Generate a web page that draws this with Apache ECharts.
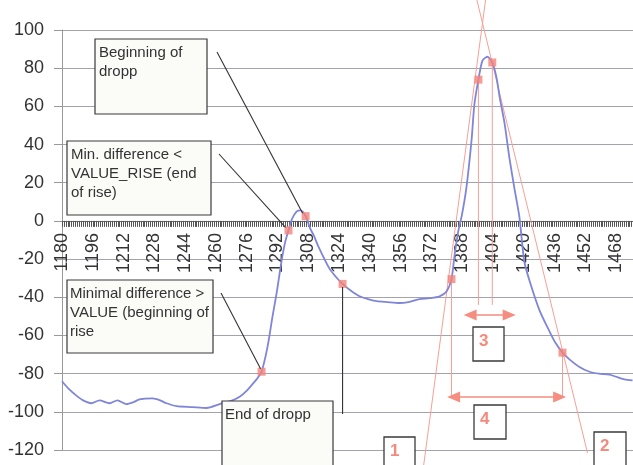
<!DOCTYPE html>
<html><head><meta charset="utf-8">
<script src="https://cdn.jsdelivr.net/npm/echarts@6/dist/echarts.min.js"></script>
<style>html,body{margin:0;padding:0;background:#fff}#c{width:633px;height:465px}</style>
</head><body><div id="c"></div>
<script>
// ---- data ----
const curveX = [1180,1183.5,1187.5,1191,1195.3,1199.5,1204.7,1208.8,1213.5,1217,1220.3,1227,1231,1234.3,1239.5,1247.8,1255.1,1261.9,1268.6,1272.5,1275.9,1279,1281.1,1283.7,1286.8,1289.4,1291.5,1294.1,1296,1297.7,1299.5,1302,1304,1306.6,1309,1311,1313.5,1319,1322.5,1325.8,1330,1334.6,1339,1343.5,1349,1355.4,1360,1365.8,1371,1376.2,1379.8,1382.4,1384,1386,1387.8,1390.1,1392.8,1394.3,1396.4,1398.5,1401.1,1403.6,1405.8,1407.4,1410,1412.5,1415.1,1417.7,1420.2,1423,1428.2,1433.4,1436.5,1440.1,1443.7,1448.9,1454.1,1459,1464.5,1469,1472.3,1476.5];
const curveY = [-84,-88,-91.5,-94,-95.5,-94,-95.5,-94,-96,-95,-93.5,-93,-94,-95.5,-97,-97.5,-98,-96,-94,-92,-89,-85.5,-83,-79,-66,-50,-38,-21,-11,-5,1,5,5.5,2.5,-4,-8,-14,-25,-29.5,-33,-36.5,-39.5,-41,-42,-42.5,-43,-42.5,-41,-40.5,-39.5,-37,-30.5,-18,-5,3,17,42,61,74,84,86,83,75,65,51,33,17,2,-21,-31.5,-47,-58,-64,-69,-72.5,-76.5,-79,-80,-80.5,-82,-83,-83.5];
const markerX = [1283.7,1297.7,1306.6,1325.8,1382.4,1396.4,1403.6,1440.1];
const markerY = [-79,-5,2.5,-33,-30.5,74,83,-69];
const riseTangentX = [1367.9,1400.1];
const riseTangentY = [-128.3,115.7];
const fallTangentX = [1395.6,1453.1];
const fallTangentY = [115.7,-121.6];
const dropLevelNarrow = -44;   // bottom of the verticals for span 3
const dropLevelWide = -92.2;   // bottom of the verticals for span 4
const arrow3X = [1392.1,1412.4], arrow3Y = -49.3;
const arrow4X = [1383.5,1438.6], arrow4Y = -92.2;
const yTicks = [-120,-100,-80,-60,-40,-20,0,20,40,60,80,100];
const xTickLabels = [1180,1196,1212,1228,1244,1260,1276,1292,1308,1324,1340,1356,1372,1388,1404,1420,1436,1452,1468];
const notes = {
  begDrop: 'Beginning of\ndropp',
  endRise: 'Min. difference <\nVALUE_RISE (end\nof rise)',
  begRise: 'Minimal difference >\nVALUE (beginning of\nrise',
  endDrop: 'End of dropp'
};

const FONT = 'Liberation Sans, Arial, sans-serif';
const RED = '#f5a095';
const MARK = '#f4837a';
const chart = echarts.init(document.getElementById('c'));

function pairs(xs, ys){ return xs.map((x,i)=>[x, ys[i]]); }
function seg(x1,y1,x2,y2){ return [[x1,y1],[x2,y2]]; }
const redLine = (data) => ({type:'line', data, clip:false, symbol:'none', silent:true, z:3,
  lineStyle:{color:RED, width:1}, animation:false});

const option = {
  animation:false,
  grid:{left:62, top:30, bottom:15, right:-14, containLabel:false, outerBoundsMode:'none'},
  xAxis:{type:'value', min:1180, max:1484, interval:16, offset:0,
    axisLine:{onZero:false, lineStyle:{color:'#666', width:1}},
    axisTick:{show:true, length:6, lineStyle:{color:'#555'}},
    minorTick:{show:true, splitNumber:16, length:6, lineStyle:{color:'#555'}},
    splitLine:{show:false},
    axisLabel:{rotate:90, fontSize:18, fontFamily:FONT, color:'#333', margin:12, hideOverlap:false,
      formatter:(v)=> xTickLabels.indexOf(v) >= 0 ? String(v) : ''}},
  yAxis:{type:'value', min:yTicks[0], max:yTicks[yTicks.length-1], interval:20,
    axisLine:{show:true, onZero:false, lineStyle:{color:'#999'}},
    axisTick:{show:true, length:8, lineStyle:{color:'#999'}},
    splitLine:{show:true, lineStyle:{color:'#a3a3ab', width:1}},
    axisLabel:{fontSize:18, fontFamily:FONT, color:'#333', margin:18}},
  series:[
    {type:'line', data:pairs(curveX, curveY), symbol:'none', smooth:0.25, z:4,
      lineStyle:{color:'#7f85d8', width:1.8}},
    redLine(pairs(riseTangentX, riseTangentY)),
    redLine(pairs(fallTangentX, fallTangentY)),
    redLine(seg(markerX[4], markerY[4], markerX[4], dropLevelWide)),
    redLine(seg(markerX[7], markerY[7], markerX[7], dropLevelWide)),
    redLine(seg(markerX[5], markerY[5], markerX[5], dropLevelNarrow)),
    redLine(seg(markerX[6], markerY[6], markerX[6], dropLevelNarrow)),
    {type:'line', data:[], symbol:'none', silent:true,
      markLine:{silent:true, symbol:['triangle','triangle'], symbolSize:[11,13], label:{show:false},
        lineStyle:{color:'#f58d80', width:1.5, type:'solid'},
        data:[
          [{coord:[arrow3X[0], arrow3Y]}, {coord:[arrow3X[1], arrow3Y]}],
          [{coord:[arrow4X[0], arrow4Y]}, {coord:[arrow4X[1], arrow4Y]}]
        ]}},
    {type:'scatter', data:pairs(markerX, markerY), symbol:'rect', symbolSize:8, z:6,
      itemStyle:{color:MARK}}
  ]
};
chart.setOption(option);

// move the x axis (line, ticks and labels) up to y = 0
const yZero = chart.convertToPixel({yAxisIndex:0}, 0);
const yBottom = chart.convertToPixel({yAxisIndex:0}, yTicks[0]);
chart.setOption({xAxis:{offset: -(yBottom - yZero)}});

const px = (i) => chart.convertToPixel({gridIndex:0}, [markerX[i], markerY[i]]);
const pC = px(0), pB = px(1), pA = px(2), pD = px(3);

function box(x,y,w,h){ return {type:'rect', shape:{x,y,width:w,height:h}, z:10,
  style:{fill:'#fbfbf8', stroke:'#3a3a3a', lineWidth:1.2}}; }
function note(x,y,text){ return {type:'text', x, y, z:11,
  style:{text, font:'15px '+FONT, fill:'#333', lineHeight:19}}; }
function numBox(x,y,w,h,t){ return [
  {type:'rect', shape:{x,y,width:w,height:h}, z:10, style:{fill:'#fff', stroke:'#3a3a3a', lineWidth:1.3}},
  {type:'text', x:x+6, y:y+6, z:11, style:{text:t, font:'bold 17px '+FONT, fill:'#f48a7e'}}
]; }
function conn(x1,y1,x2,y2){ return {type:'line', shape:{x1,y1,x2,y2}, z:9,
  style:{stroke:'#333', lineWidth:1.1}}; }

const g = [
  box(95,39,112,75), note(99,43,notes.begDrop), conn(217,52,pA[0]-3,pA[1]-3),
  box(67,141,144,74), note(71,145,notes.endRise), conn(219,154,pB[0]-3,pB[1]-3),
  box(67,280,146,73), note(70,284,notes.begRise), conn(221,293,pC[0]-1,pC[1]-3),
  box(222,401,111,80), note(225,405,notes.endDrop), conn(pD[0],pD[1]+3,pD[0],414),
  ...numBox(473,327,31,34,'3'),
  ...numBox(474,405,32,34,'4'),
  ...numBox(384,437,31,40,'1'),
  ...numBox(594,432,32,40,'2')
];
chart.setOption({graphic:{elements:g}});
</script></body></html>
